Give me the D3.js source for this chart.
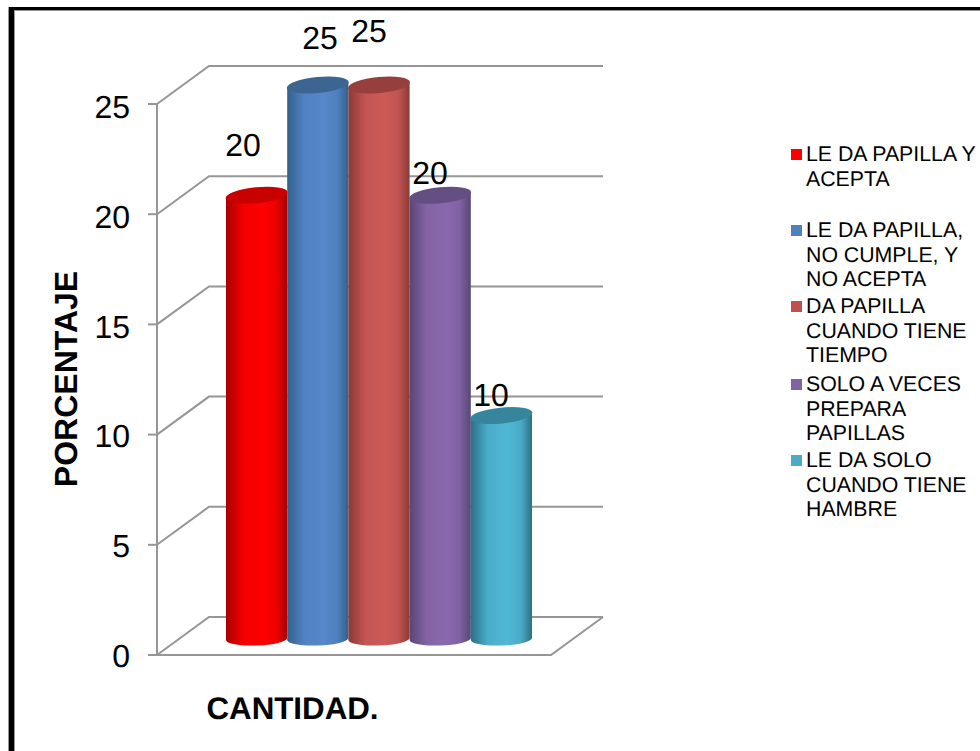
<!DOCTYPE html>
<html><head><meta charset="utf-8">
<script src="https://cdn.jsdelivr.net/npm/d3@7"></script>
<style>html,body{margin:0;padding:0;background:#fff}svg{display:block}text{font-family:"Liberation Sans",Arial,sans-serif;fill:#000;text-rendering:geometricPrecision}</style>
</head><body><svg id="c" width="980" height="751"></svg>
<script>
const categories = ["LE DA PAPILLA Y ACEPTA","LE DA PAPILLA, NO CUMPLE, Y NO ACEPTA","DA PAPILLA CUANDO TIENE TIEMPO","SOLO A VECES PREPARA PAPILLAS","LE DA SOLO CUANDO TIENE HAMBRE"];
const legendLines = [["LE DA PAPILLA Y","ACEPTA"],["LE DA PAPILLA,","NO CUMPLE, Y","NO ACEPTA"],["DA PAPILLA","CUANDO TIENE","TIEMPO"],["SOLO A VECES","PREPARA","PAPILLAS"],["LE DA SOLO","CUANDO TIENE","HAMBRE"]];
const values = [20,25,25,20,10];
const ticks = [0,5,10,15,20,25];
const sideMid = ["#ff0000","#5688ca","#cd5a57","#8a68ae","#4fb8d6"];
const sideEdge = ["#a80000","#34608c","#8a3a38","#584775","#2c7084"];
const topFill = ["#c80000","#3c6691","#963f3d","#644f83","#35869c"];
const legendColors = ["#ff0000","#4f81bd","#c0504d","#8064a2","#4bacc6"];
const legendY = [155,231,307,385,461];
const labelPos = [[243,156],[320,49],[369,42],[430,184],[491,406]];

const svg = d3.select("#c");
const depth = {dx:52, dy:-38};
const yF = d3.scaleLinear().domain([0,25]).range([655,104]);
const yLabel = d3.scaleLinear().domain([0,25]).range([667,118]);
const x = d3.scaleBand().domain(d3.range(values.length)).range([226,532]).padding(0);
const grey = "#969696";
const axisX = 157;

// Frame: only the top and left edges fall inside the picture
svg.append("rect").attr("x",8).attr("y",7).attr("width",972).attr("height",4).attr("fill",grey);
svg.append("rect").attr("x",8).attr("y",7).attr("width",7).attr("height",744).attr("fill",grey);
svg.append("rect").attr("x",9).attr("y",7).attr("width",971).attr("height",3).attr("fill","#000");
svg.append("rect").attr("x",9).attr("y",7).attr("width",5).attr("height",744).attr("fill","#000");

const defs = svg.append("defs");
sideMid.forEach((m,i)=>{
  const g = defs.append("linearGradient").attr("id","g"+i);
  [[0,sideEdge[i]],[0.28,d3.interpolateRgb(sideEdge[i],m)(0.85)],[0.6,m],[0.82,d3.interpolateRgb(sideEdge[i],m)(0.8)],[1,sideEdge[i]]]
    .forEach(([o,c])=>g.append("stop").attr("offset",o).attr("stop-color",c));
});

// Grid: side wall and back wall lines
const grid = svg.append("g").attr("fill","none").attr("stroke",grey).attr("stroke-width",2);
ticks.forEach(t=>{
  const y0 = yF(t);
  grid.append("path").attr("d",d3.line()([[axisX,y0],[axisX+depth.dx,y0+depth.dy],[603,y0+depth.dy]]));
  grid.append("line").attr("x1",axisX-9).attr("x2",axisX).attr("y1",y0).attr("y2",y0);
});
grid.append("line").attr("x1",axisX).attr("x2",axisX).attr("y1",yF(25)).attr("y2",yF(0));
grid.append("path").attr("d",d3.line()([[axisX,yF(0)],[551,yF(0)],[603,yF(0)+depth.dy]]));

// Cylinders
const yBar = v => yF(v)+depth.dy/2;
const bars = svg.append("g");
values.forEach((v,i)=>{
  const l = x(i), w = x.bandwidth(), r = l+w, cx = l+w/2;
  const top = yBar(v), bot = yBar(0);
  const tilt = 3;
  const g = bars.append("g");
  g.append("path").attr("fill",`url(#g${i})`)
    .attr("d",`M${l},${top+tilt}L${r},${top-tilt}L${r},${bot+2}`+
      `A${w/2},6.5 -2 0 1 ${l},${bot+4}Z`);
  g.append("ellipse").attr("cx",cx).attr("cy",top).attr("rx",w/2+0.5).attr("ry",8)
    .attr("transform",`rotate(-5.6 ${cx} ${top})`).attr("fill",topFill[i]);
});

// Tick labels
svg.append("g").selectAll("text").data(ticks).join("text")
  .attr("x",130).attr("y",d=>yLabel(d)).attr("text-anchor","end")
  .attr("font-size",32).text(d=>d);

// Data labels
svg.append("g").selectAll("text").data(values).join("text")
  .attr("x",(d,i)=>labelPos[i][0]).attr("y",(d,i)=>labelPos[i][1]).attr("text-anchor","middle")
  .attr("font-size",32).text(d=>d);

// Axis titles
svg.append("text").attr("transform","translate(77,379) rotate(-90)").attr("text-anchor","middle")
  .attr("font-size",32).attr("font-weight","bold").text("PORCENTAJE");
svg.append("text").attr("x",292.5).attr("y",719).attr("text-anchor","middle")
  .attr("font-size",31.3).attr("font-weight","bold").text("CANTIDAD.");

// Legend
const lg = svg.append("g");
categories.forEach((c,i)=>{
  lg.append("rect").attr("x",791).attr("y",legendY[i]-6).attr("width",11).attr("height",11).attr("fill",legendColors[i]);
  legendLines[i].forEach((t,j)=>lg.append("text").attr("x",806).attr("y",legendY[i]+6+j*24.5).attr("font-size",21.3).text(t));
});
</script></body></html>
